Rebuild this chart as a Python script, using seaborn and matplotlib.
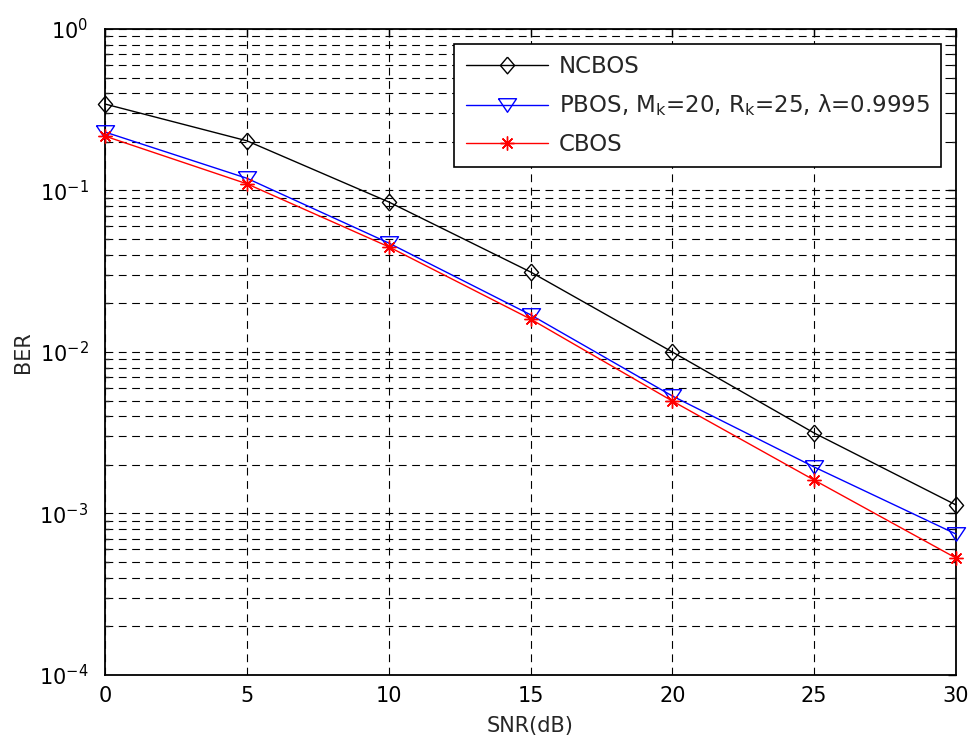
import numpy as np
import pandas as pd
import matplotlib
matplotlib.use("Agg")
import matplotlib.pyplot as plt
from matplotlib.ticker import LogLocator, NullFormatter, FixedLocator
import seaborn as sns

# SNR points and bit-error rates for the three schemes
snr_db = [0, 5, 10, 15, 20, 25, 30]
ber_ncbos = [0.343, 0.203, 0.0849, 0.0313, 0.0100, 0.00315, 0.00113]
ber_pbos = [0.230, 0.119, 0.0473, 0.0170, 0.00534, 0.00194, 0.000746]
ber_cbos = [0.217, 0.110, 0.0448, 0.0160, 0.00497, 0.00161, 0.00053]

labels = ["NCBOS",
          "PBOS, M$_\\mathregular{k}$=20, R$_\\mathregular{k}$=25, \u03bb=0.9995",
          "CBOS"]
colors = ["black", "blue", "red"]

df = pd.DataFrame({
    "SNR": snr_db * 3,
    "BER": ber_ncbos + ber_pbos + ber_cbos,
    "scheme": [labels[0]] * 7 + [labels[1]] * 7 + [labels[2]] * 7,
})

sns.set_style("white")
plt.rcParams["font.family"] = ["DejaVu Sans"]
plt.rcParams["mathtext.fontset"] = "dejavusans"

fig = plt.figure(figsize=(9.73, 7.47), dpi=100)
ax = fig.add_axes([0.108, 0.0964, 0.8745, 0.8648])

diamond = [(0, 1), (0.85, 0), (0, -1), (-0.85, 0), (0, 1)]
tri_down = [(-1, 0.75), (1, 0.75), (0, -0.75), (-1, 0.75)]
asterisk = (8, 2, 0)
marker_specs = [
    dict(marker=diamond, markersize=12, markerfacecolor="none"),
    dict(marker=tri_down, markersize=13, markerfacecolor="none"),
    dict(marker=asterisk, markersize=10),
]

for lab, col, spec in zip(labels, colors, marker_specs):
    sub = df[df["scheme"] == lab]
    sns.lineplot(data=sub, x="SNR", y="BER", ax=ax, color=col, label=lab,
                 linewidth=1.0, markeredgecolor=col, markeredgewidth=1.0,
                 clip_on=False, zorder=3, **spec)

ax.set_yscale("log")
ax.set_xlim(0, 30)
ax.set_ylim(1e-4, 1e0)
ax.xaxis.set_major_locator(FixedLocator([0, 5, 10, 15, 20, 25, 30]))
ax.yaxis.set_major_locator(LogLocator(base=10, numticks=10))
ax.yaxis.set_minor_locator(LogLocator(base=10, subs=np.arange(2, 10), numticks=20))
ax.yaxis.set_minor_formatter(NullFormatter())

grid_style = dict(color="black", linestyle=(0, (7, 5)), linewidth=0.8)
ax.grid(True, which="major", axis="both", **grid_style)
ax.grid(True, which="minor", axis="y", **grid_style)
ax.set_axisbelow(True)

ax.tick_params(which="major", direction="in", length=6, width=1.0,
               top=True, right=True, labelsize=15, colors="black")
ax.tick_params(axis="x", which="major", pad=8)
ax.tick_params(axis="y", which="major", pad=12)
ax.tick_params(which="minor", direction="in", length=3, width=1.0,
               left=True, right=True)
for sp in ax.spines.values():
    sp.set_color("black")
    sp.set_linewidth(1.3)

ax.set_xlabel("SNR(dB)", fontsize=15, labelpad=7)
ax.set_ylabel("BER", fontsize=15, labelpad=4)

leg = ax.legend(loc="upper right", fontsize=16.5, frameon=True, fancybox=False,
                framealpha=1, edgecolor="black", handlelength=3.6,
                borderaxespad=0.65, labelspacing=0.62, handletextpad=0.45,
                borderpad=0.5)
leg.get_frame().set_linewidth(1.2)

fig.savefig("out.png", dpi=100)
